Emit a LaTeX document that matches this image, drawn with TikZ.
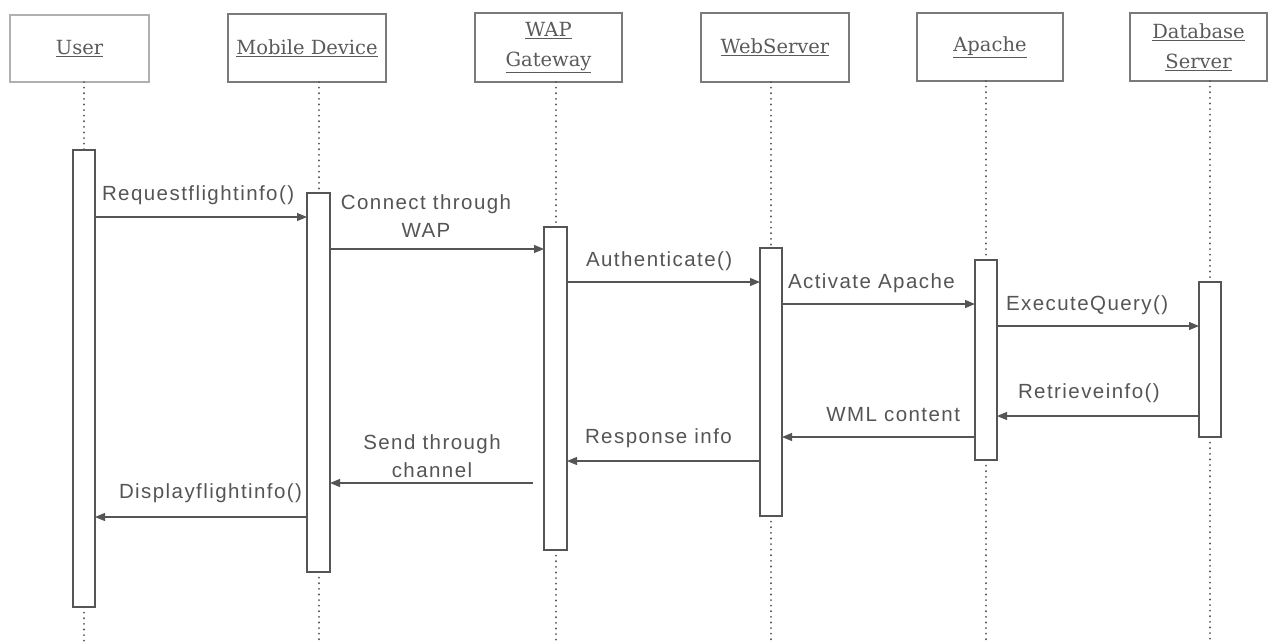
\documentclass[tikz,border=0pt]{standalone}
\usepackage{fontspec}
\setmainfont{Liberation Sans}
\newfontfamily\hdfont{DejaVu Serif}
\usetikzlibrary{arrows.meta}
\definecolor{ink}{HTML}{555555}
\definecolor{hdline}{HTML}{7A7A7A}
\definecolor{hdlight}{HTML}{B0B0B0}
\definecolor{hdtext}{HTML}{5A5A5A}
\begin{document}
\begin{tikzpicture}[x=1pt,y=-1pt,
  hbox/.style={draw=hdline, line width=1.3pt, fill=white, inner sep=0pt, outer sep=0pt,
    align=center, anchor=north west, text=hdtext,
    font=\hdfont\fontsize{19.5}{30}\selectfont},
  actbar/.style={draw=ink, line width=1.1pt, fill=white, inner sep=0pt, outer sep=0pt,
    anchor=north west, minimum width=22pt},
  life/.style={draw=ink, line width=2pt, line cap=round, dash pattern=on 0.1pt off 5.5pt},
  msg/.style={draw=ink, line width=1.1pt, -{Triangle[length=10pt,width=8pt]}},
  lbl/.style={inner sep=0pt, outer sep=0pt, text=ink, align=center,
    font=\fontsize{20.5}{28}\selectfont\addfontfeatures{LetterSpace=7}}
]
\useasboundingbox (0,0) rectangle (1268,641);
\fill[white] (0,0) rectangle (1268,641);
\coordinate (bot) at (0,641);

% header boxes
\node[hbox, draw=hdlight, minimum width=139pt, minimum height=67pt] (user) at (10,15) {\underline{User}};
\node[hbox, minimum width=158pt, minimum height=68pt] (mobile) at (228,14) {\underline{Mobile Device}};
\node[hbox, minimum width=147pt, minimum height=69pt] (wap) at (475,13) {\underline{WAP}\\\underline{Gateway}};
\node[hbox, minimum width=148pt, minimum height=69pt] (web) at (701,13) {\underline{WebServer}};
\node[hbox, minimum width=146pt, minimum height=68pt] (apache) at (917,13) {\underline{Apache}};
\node[hbox, minimum width=137pt, minimum height=68pt] (db) at (1130,13) {\underline{Database}\\\underline{Server}};

% activation bars
\node[actbar, minimum height=457pt] (ubar) at (73,150) {};
\node[actbar, minimum height=379pt, minimum width=23pt] (mbar) at (307,193) {};
\node[actbar, minimum height=323pt, minimum width=23pt] (gbar) at (544,227) {};
\node[actbar, minimum height=268pt] (wbar) at (760,248) {};
\node[actbar, minimum height=200pt] (abar) at (975,260) {};
\node[actbar, minimum height=155pt] (dbar) at (1199,282) {};

% lifelines
\foreach \h/\b in {user/ubar, mobile/mbar, wap/gbar, web/wbar, apache/abar, db/dbar}{
  \draw[life] (\b.north |- \h.south) -- (\b.north);
  \draw[life] (\b.south) -- (\b.south |- bot);
}

% message levels
\coordinate (y1) at (0,217);
\coordinate (y2) at (0,249);
\coordinate (y3) at (0,282);
\coordinate (y4) at (0,304);
\coordinate (y5) at (0,326);
\coordinate (y6) at (0,416);
\coordinate (y7) at (0,437);
\coordinate (y8) at (0,461);
\coordinate (y9) at (0,483);
\coordinate (y10) at (0,517);
\coordinate (sendstart) at (533,483);

\draw[msg] (ubar.east |- y1) -- (mbar.west |- y1);
\draw[msg] (mbar.east |- y2) -- (gbar.west |- y2);
\draw[msg] (gbar.east |- y3) -- (wbar.west |- y3);
\draw[msg] (wbar.east |- y4) -- (abar.west |- y4);
\draw[msg] (abar.east |- y5) -- (dbar.west |- y5);
\draw[msg] (dbar.west |- y6) -- (abar.east |- y6);
\draw[msg] (abar.west |- y7) -- (wbar.east |- y7);
\draw[msg] (wbar.west |- y8) -- (gbar.east |- y8);
\draw[msg] (sendstart) -- (mbar.east |- y9);
\draw[msg] (mbar.west |- y10) -- (ubar.east |- y10);

% labels
\node[lbl, anchor=west] (l1) at (102,195) {Requestflightinfo()};
\node[lbl] (l2) at (426,216) {Connect through\\WAP};
\node[lbl, anchor=west] (l3) at (586,261) {Authenticate()};
\node[lbl, anchor=west] (l4) at (788,283) {Activate Apache};
\node[lbl, anchor=west] (l5) at (1006,305) {ExecuteQuery()};
\node[lbl, anchor=west] (l6) at (1018,393) {Retrieveinfo()};
\node[lbl, anchor=east] (l7) at (960,415) {WML content};
\node[lbl, anchor=west] (l8) at (585,438) {Response info};
\node[lbl] (l9) at (432,456) {Send through\\channel};
\node[lbl, anchor=west] (l10) at (119,493) {Displayflightinfo()};
\end{tikzpicture}
\end{document}
